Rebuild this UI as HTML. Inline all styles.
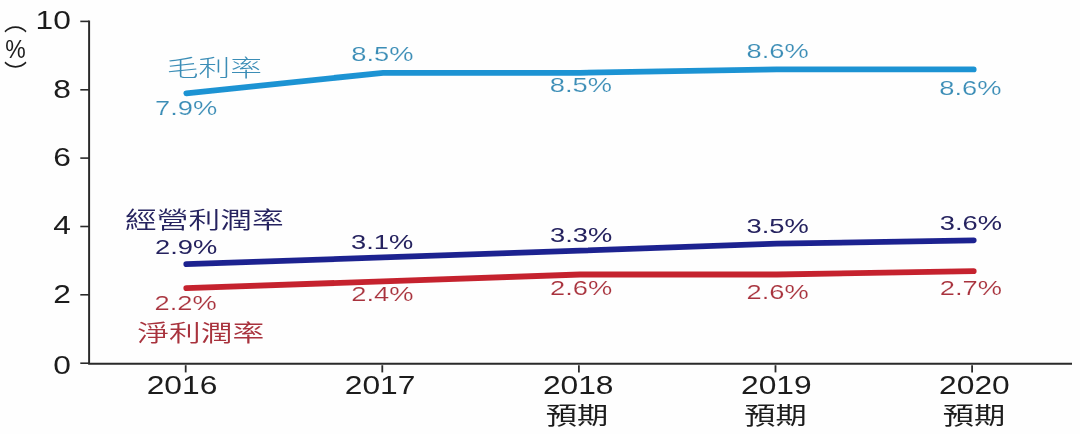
<!DOCTYPE html>
<html lang="zh-Hant"><head><meta charset="utf-8"><title>利潤率</title>
<style>
html,body{margin:0;padding:0;background:#fff;}
body{width:1080px;height:434px;overflow:hidden;}
svg{display:block;}
text{font-family:"Liberation Sans","Noto Sans CJK TC",sans-serif;}
</style></head><body>
<svg width="1080" height="434" viewBox="0 0 1080 434">
<rect width="1080" height="434" fill="#fefefe"/>
<defs><filter id="soft" x="0" y="0" width="1080" height="434" filterUnits="userSpaceOnUse"><feGaussianBlur stdDeviation="0.55"/></filter></defs>
<g filter="url(#soft)">

<g stroke="#2a2a2a" fill="none">
<path stroke-width="1.95" d="M89.1 20.6 V363.75 H1072"/>
<path stroke-width="1.6" d="M80.3 363.2 H89"/>
<path stroke-width="1.6" d="M80.3 294.8 H89"/>
<path stroke-width="1.6" d="M80.3 226.5 H89"/>
<path stroke-width="1.6" d="M80.3 158.1 H89"/>
<path stroke-width="1.6" d="M80.3 89.8 H89"/>
<path stroke-width="1.6" d="M80.3 21.4 H89"/>
<path stroke-width="1.8" d="M185.7 365.2 V372.4"/>
<path stroke-width="1.8" d="M382.3 365.2 V372.4"/>
<path stroke-width="1.8" d="M578.9 365.2 V372.4"/>
<path stroke-width="1.8" d="M775.5 365.2 V372.4"/>
<path stroke-width="1.8" d="M972.1 365.2 V372.4"/>
</g>
<text transform="translate(70.8 374.1) scale(1.27 1)" text-anchor="end" font-size="25" fill="#1c1c1c">0</text>
<text transform="translate(70.8 302.8) scale(1.27 1)" text-anchor="end" font-size="25" fill="#1c1c1c">2</text>
<text transform="translate(70.8 234.3) scale(1.27 1)" text-anchor="end" font-size="25" fill="#1c1c1c">4</text>
<text transform="translate(70.8 166.1) scale(1.27 1)" text-anchor="end" font-size="25" fill="#1c1c1c">6</text>
<text transform="translate(70.8 97.5) scale(1.27 1)" text-anchor="end" font-size="25" fill="#1c1c1c">8</text>
<text transform="translate(70.8 29.0) scale(1.27 1)" text-anchor="end" font-size="25" fill="#1c1c1c">10</text>
<text transform="translate(182.0 394.3) scale(1.27 1)" text-anchor="middle" font-size="25" fill="#1c1c1c">2016</text>
<text transform="translate(380.1 394.3) scale(1.27 1)" text-anchor="middle" font-size="25" fill="#1c1c1c">2017</text>
<text transform="translate(578.2 394.3) scale(1.27 1)" text-anchor="middle" font-size="25" fill="#1c1c1c">2018</text>
<text transform="translate(776.3 394.3) scale(1.27 1)" text-anchor="middle" font-size="25" fill="#1c1c1c">2019</text>
<text transform="translate(974.4 394.3) scale(1.27 1)" text-anchor="middle" font-size="25" fill="#1c1c1c">2020</text>
<text transform="translate(577.0 423.5) scale(1.3 1)" text-anchor="middle" font-size="24" fill="#1c1c1c">預期</text>
<text transform="translate(775.5 423.5) scale(1.3 1)" text-anchor="middle" font-size="24" fill="#1c1c1c">預期</text>
<text transform="translate(974.0 423.5) scale(1.3 1)" text-anchor="middle" font-size="24" fill="#1c1c1c">預期</text>
<text transform="translate(3.9 29.7) scale(1.0 1)" text-anchor="start" font-size="23" fill="#1c1c1c">︵</text>
<text transform="translate(5.2 58.0) scale(0.92 1.03)" text-anchor="start" font-size="25" fill="#1c1c1c">%</text>
<text transform="translate(3.9 81.3) scale(1.0 1)" text-anchor="start" font-size="23" fill="#1c1c1c">︶</text>
<text transform="translate(166.8 75.7) scale(1.38 1)" text-anchor="start" font-size="23" fill="#3b8db6" font-weight="300">毛利率</text>
<text transform="translate(125.0 228.2) scale(1.38 1)" text-anchor="start" font-size="23" fill="#25235f" font-weight="350">經營利潤率</text>
<text transform="translate(137.3 340.5) scale(1.38 1)" text-anchor="start" font-size="23" fill="#a8323c" font-weight="350">淨利潤率</text>
<text transform="translate(155.0 114.7) scale(1.4 1)" text-anchor="start" font-size="19.5" fill="#3b8db6" stroke="#fefefe" stroke-width="0.15">7.9%</text>
<text transform="translate(351.2 61.0) scale(1.4 1)" text-anchor="start" font-size="19.5" fill="#3b8db6" stroke="#fefefe" stroke-width="0.15">8.5%</text>
<text transform="translate(549.8 91.7) scale(1.4 1)" text-anchor="start" font-size="19.5" fill="#3b8db6" stroke="#fefefe" stroke-width="0.15">8.5%</text>
<text transform="translate(746.6 57.9) scale(1.4 1)" text-anchor="start" font-size="19.5" fill="#3b8db6" stroke="#fefefe" stroke-width="0.15">8.6%</text>
<text transform="translate(939.2 95.0) scale(1.4 1)" text-anchor="start" font-size="19.5" fill="#3b8db6" stroke="#fefefe" stroke-width="0.15">8.6%</text>
<text transform="translate(155.1 254.0) scale(1.4 1)" text-anchor="start" font-size="19.5" fill="#25235f">2.9%</text>
<text transform="translate(351.0 249.0) scale(1.4 1)" text-anchor="start" font-size="19.5" fill="#25235f">3.1%</text>
<text transform="translate(550.0 242.4) scale(1.4 1)" text-anchor="start" font-size="19.5" fill="#25235f">3.3%</text>
<text transform="translate(746.6 232.8) scale(1.4 1)" text-anchor="start" font-size="19.5" fill="#25235f">3.5%</text>
<text transform="translate(939.8 229.9) scale(1.4 1)" text-anchor="start" font-size="19.5" fill="#25235f">3.6%</text>
<text transform="translate(154.5 310.0) scale(1.4 1)" text-anchor="start" font-size="19.5" fill="#a8323c" stroke="#fefefe" stroke-width="0.15">2.2%</text>
<text transform="translate(351.2 301.0) scale(1.4 1)" text-anchor="start" font-size="19.5" fill="#a8323c" stroke="#fefefe" stroke-width="0.15">2.4%</text>
<text transform="translate(550.0 294.7) scale(1.4 1)" text-anchor="start" font-size="19.5" fill="#a8323c" stroke="#fefefe" stroke-width="0.15">2.6%</text>
<text transform="translate(746.6 299.3) scale(1.4 1)" text-anchor="start" font-size="19.5" fill="#a8323c" stroke="#fefefe" stroke-width="0.15">2.6%</text>
<text transform="translate(939.8 294.6) scale(1.4 1)" text-anchor="start" font-size="19.5" fill="#a8323c" stroke="#fefefe" stroke-width="0.15">2.7%</text>
<polyline points="186.3,93.3 383.1,72.8 580.0,72.8 776.8,69.4 973.7,69.4" fill="none" stroke="#1e93d3" stroke-width="5.8" stroke-linecap="round" stroke-linejoin="round"/>
<polyline points="186.3,264.2 383.1,257.4 580.0,250.6 776.8,243.7 973.7,240.3" fill="none" stroke="#1f2490" stroke-width="5.8" stroke-linecap="round" stroke-linejoin="round"/>
<polyline points="186.3,288.2 383.1,281.3 580.0,274.5 776.8,274.5 973.7,271.1" fill="none" stroke="#c5232e" stroke-width="5.8" stroke-linecap="round" stroke-linejoin="round"/>
</g></svg></body></html>
